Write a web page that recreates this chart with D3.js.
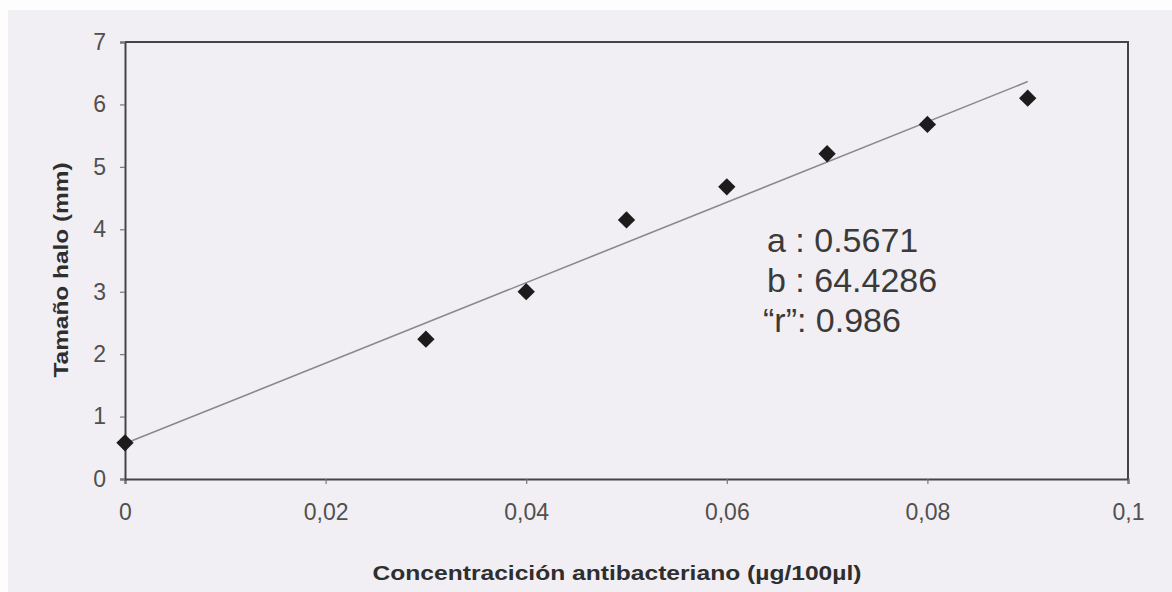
<!DOCTYPE html>
<html>
<head>
<meta charset="utf-8">
<script src="https://cdn.jsdelivr.net/npm/d3@7"></script>
<style>
  body { margin: 0; background: #fdfdfd; }
  text { font-family: "Liberation Sans", Arial, sans-serif; }
</style>
</head>
<body>
<div id="chart"></div>
<script>
// data
var concentration = [0, 0.03, 0.04, 0.05, 0.06, 0.07, 0.08, 0.09];
var haloSize = [0.58, 2.24, 3.0, 4.15, 4.68, 5.21, 5.68, 6.1];
var xTicks = [0, 0.02, 0.04, 0.06, 0.08, 0.1];
var yTicks = [0, 1, 2, 3, 4, 5, 6, 7];
// fit given in the chart: y = a + b*x
var fitA = 0.5671, fitB = 64.4286, fitR = 0.986;
var fitRange = [0, 0.09];

var svg = d3.select("#chart").append("svg")
  .attr("width", 1172)
  .attr("height", 592);

// scanned paper background
svg.append("rect")
  .attr("x", 8).attr("y", 10)
  .attr("width", 1164).attr("height", 582)
  .attr("fill", "#f1eff3");

var x = d3.scaleLinear().domain([0, 0.1]).range([125, 1128]);
var y = d3.scaleLinear().domain([0, 7]).range([479, 42]);

var fmtX = function(d) { return d === 0 ? "0" : String(d).replace(".", ","); };

// axes
var xAxis = svg.append("g")
  .attr("transform", "translate(0," + y(0) + ")")
  .call(d3.axisBottom(x).tickValues(xTicks).tickFormat(fmtX).tickSize(5).tickPadding(20));
var yAxis = svg.append("g")
  .attr("transform", "translate(" + x(0) + ",0)")
  .call(d3.axisLeft(y).tickValues(yTicks).tickFormat(d3.format("d")).tickSize(5).tickPadding(14));

[xAxis, yAxis].forEach(function(g) {
  g.select(".domain").attr("stroke", "#444").attr("stroke-width", 2);
  g.selectAll(".tick line").attr("stroke", "#777").attr("stroke-width", 1.2);
  g.selectAll(".tick text")
    .attr("fill", "#505050")
    .style("font-size", "23px")
    .style("font-family", "'Liberation Sans', Arial, sans-serif");
});
xAxis.selectAll(".tick text").attr("dy", "0.71em");

// top and right frame
svg.append("path")
  .attr("d", "M" + x(0) + "," + y(7) + "H" + x(0.1) + "V" + y(0))
  .attr("fill", "none")
  .attr("stroke", "#444")
  .attr("stroke-width", 2);

// trend line
var line = d3.line()
  .x(function(d) { return x(d); })
  .y(function(d) { return y(fitA + fitB * d); });

svg.append("path")
  .datum(fitRange)
  .attr("d", line)
  .attr("fill", "none")
  .attr("stroke", "#8a8a8a")
  .attr("stroke-width", 1.6);

// diamond markers
var pts = concentration.map(function(c, i) { return {c: c, v: haloSize[i]}; });
svg.selectAll(".pt").data(pts).enter()
  .append("path")
  .attr("class", "pt")
  .attr("d", d3.symbol().type(d3.symbolSquare).size(150))
  .attr("transform", function(d) { return "translate(" + x(d.c) + "," + y(d.v) + ") rotate(45)"; })
  .attr("fill", "#1c1c1c");

// fit annotation
var notes = [
  {t: "a : " + fitA, dx: 767},
  {t: "b : " + fitB, dx: 767},
  {t: "\u201cr\u201d: " + fitR, dx: 763}
];
svg.selectAll(".note").data(notes).enter()
  .append("text")
  .attr("class", "note")
  .attr("x", function(d) { return d.dx; })
  .attr("y", function(d, i) { return 252 + i * 40; })
  .attr("fill", "#3a3a3a")
  .style("font-size", "34px")
  .text(function(d) { return d.t; });

// axis titles
svg.append("text")
  .attr("x", 617).attr("y", 580)
  .attr("text-anchor", "middle")
  .attr("fill", "#2e2e2e")
  .style("font-size", "21px")
  .style("font-weight", "bold")
  .attr("textLength", 489)
  .attr("lengthAdjust", "spacingAndGlyphs")
  .text("Concentracición antibacteriano (µg/100µl)");

svg.append("text")
  .attr("transform", "translate(68,270) rotate(-90)")
  .attr("text-anchor", "middle")
  .attr("fill", "#2e2e2e")
  .style("font-size", "20px")
  .style("font-weight", "bold")
  .attr("textLength", 215)
  .attr("lengthAdjust", "spacingAndGlyphs")
  .text("Tamaño halo (mm)");
</script>
</body>
</html>
